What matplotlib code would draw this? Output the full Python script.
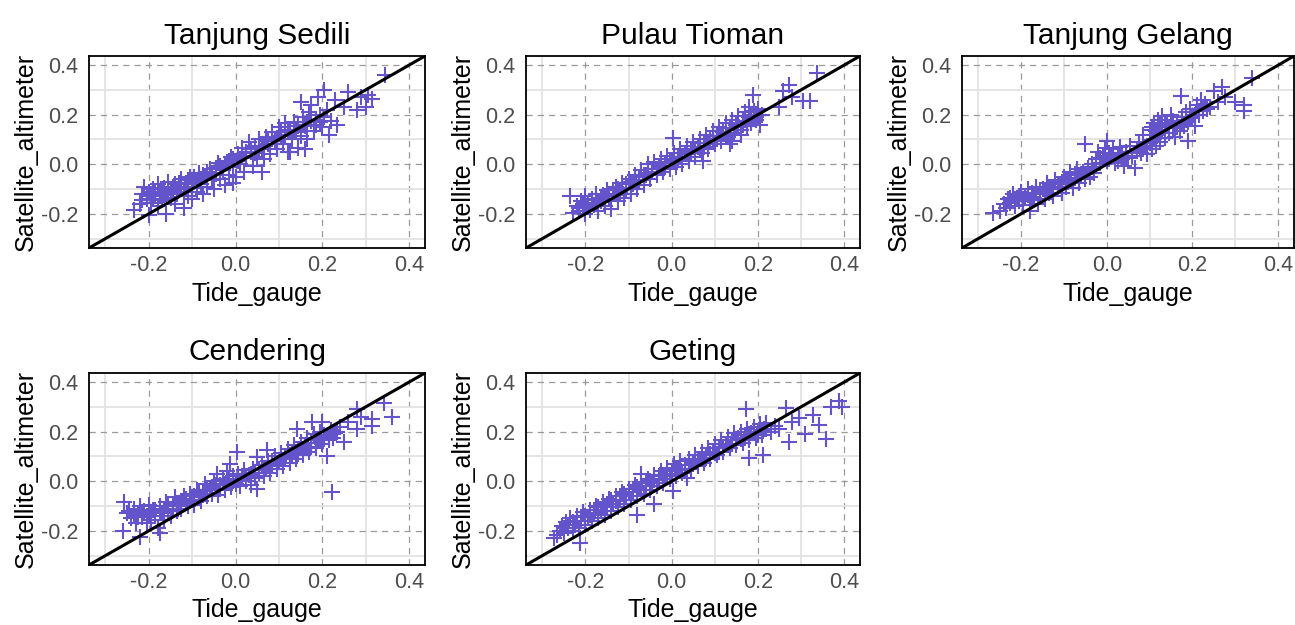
import matplotlib
matplotlib.use("Agg")
import matplotlib.pyplot as plt

plt.rcParams['font.family'] = ['Liberation Sans', 'DejaVu Sans']

stations = ["Tanjung Sedili", "Pulau Tioman", "Tanjung Gelang", "Cendering", "Geting"]
x_label = "Tide_gauge"
y_label = "Satellite_altimeter"
major_ticks = [-0.2, 0.0, 0.2, 0.4]
minor_ticks = [-0.3, -0.1, 0.1, 0.3]
tick_labels = ["-0.2", "0.0", "0.2", "0.4"]

# (tide gauge, satellite altimeter) pairs
sedili = [
    (-0.235, -0.185), (-0.22, -0.16), (-0.215, -0.12), (-0.21, -0.09), (-0.205, -0.14), (-0.2, -0.205),
    (-0.2, -0.11), (-0.195, -0.155), (-0.19, -0.1), (-0.185, -0.13), (-0.18, -0.08), (-0.18, -0.17),
    (-0.175, -0.115), (-0.17, -0.145), (-0.165, -0.095), (-0.16, -0.2), (-0.16, -0.12), (-0.155, -0.07),
    (-0.15, -0.135), (-0.145, -0.105), (-0.14, -0.08), (-0.14, -0.16), (-0.135, -0.12), (-0.13, -0.09),
    (-0.125, -0.06), (-0.12, -0.175), (-0.12, -0.11), (-0.115, -0.075), (-0.11, -0.13), (-0.105, -0.05),
    (-0.1, -0.095), (-0.1, -0.14), (-0.095, -0.065), (-0.09, -0.11), (-0.085, -0.035), (-0.08, -0.08),
    (-0.075, -0.12), (-0.07, -0.05), (-0.065, -0.09), (-0.06, -0.02), (-0.055, -0.065), (-0.05, -0.1),
    (-0.045, -0.04), (-0.04, 0.005), (-0.035, -0.06), (-0.03, -0.025), (-0.025, -0.085), (-0.02, 0.01),
    (-0.015, -0.045), (-0.01, 0.03), (-0.005, -0.01), (0.0, -0.05), (0.005, 0.04), (0.01, 0.0),
    (0.015, 0.065), (0.02, -0.03), (0.025, 0.025), (0.03, 0.09), (0.035, 0.05), (0.04, -0.005),
    (0.045, 0.075), (0.05, 0.03), (0.055, 0.1), (0.06, 0.06), (0.065, 0.02), (0.07, 0.11),
    (0.075, 0.08), (0.08, 0.04), (0.085, 0.13), (0.09, 0.095), (0.095, 0.06), (0.1, 0.15),
    (0.105, 0.115), (0.11, 0.08), (0.115, 0.165), (0.12, 0.13), (0.125, 0.05), (0.13, 0.1),
    (0.135, 0.17), (0.14, 0.14), (0.145, 0.065), (0.15, 0.25), (0.15, 0.115), (0.155, 0.19),
    (0.16, 0.155), (0.165, 0.1), (0.17, 0.21), (0.175, 0.24), (0.18, 0.135), (0.185, 0.18),
    (0.19, 0.27), (0.195, 0.2), (0.2, 0.15), (0.205, 0.3), (0.21, 0.22), (0.215, 0.12),
    (0.22, 0.175), (0.23, 0.26), (0.235, 0.16), (0.25, 0.23), (0.26, 0.29), (0.28, 0.22),
    (0.29, 0.27), (0.3, 0.23), (0.305, 0.28), (0.315, 0.265), (0.345, 0.36), (0.12, 0.05),
    (0.06, -0.03), (-0.005, -0.075), (0.16, 0.06),
    (-0.215, -0.145), (-0.205, -0.125), (-0.195, -0.13), (-0.19, -0.14), (-0.185, -0.11), (-0.175, -0.13),
    (-0.17, -0.11), (-0.165, -0.125), (-0.155, -0.1), (-0.15, -0.115), (-0.145, -0.09), (-0.135, -0.1),
    (-0.13, -0.075), (-0.125, -0.095), (-0.115, -0.09), (-0.11, -0.065), (-0.1, -0.07), (-0.095, -0.05),
    (-0.085, -0.06), (-0.075, -0.045), (-0.065, -0.03), (-0.055, -0.035), (-0.045, -0.015), (-0.035, -0.005),
    (-0.025, 0.0), (-0.015, 0.015), (-0.005, 0.02), (0.005, 0.015), (0.015, 0.035), (0.025, 0.05),
    (0.035, 0.06), (0.045, 0.045), (0.055, 0.065), (0.065, 0.075), (0.075, 0.095), (0.085, 0.1),
    (0.095, 0.105), (0.105, 0.13), (0.115, 0.12), (0.125, 0.14), (0.135, 0.13), (0.145, 0.155),
    (0.155, 0.16), (0.165, 0.17), (0.175, 0.175), (0.185, 0.16), (0.195, 0.17), (0.205, 0.19),
]

tioman = [
    (-0.235, -0.13), (-0.23, -0.195), (-0.22, -0.17), (-0.215, -0.19), (-0.21, -0.15), (-0.205, -0.175),
    (-0.2, -0.13), (-0.2, -0.2), (-0.195, -0.16), (-0.19, -0.185), (-0.185, -0.14), (-0.18, -0.165),
    (-0.175, -0.12), (-0.17, -0.19), (-0.165, -0.15), (-0.16, -0.125), (-0.155, -0.17), (-0.15, -0.105),
    (-0.145, -0.14), (-0.14, -0.18), (-0.135, -0.12), (-0.13, -0.09), (-0.125, -0.15), (-0.12, -0.11),
    (-0.115, -0.075), (-0.11, -0.135), (-0.105, -0.1), (-0.1, -0.06), (-0.095, -0.12), (-0.09, -0.08),
    (-0.085, -0.045), (-0.08, -0.1), (-0.075, -0.065), (-0.07, -0.025), (-0.065, -0.085), (-0.06, -0.045),
    (-0.055, 0.0), (-0.05, -0.06), (-0.045, -0.02), (-0.04, 0.01), (-0.035, -0.045), (-0.03, -0.01),
    (-0.025, 0.02), (-0.02, -0.03), (-0.015, 0.005), (-0.01, 0.035), (-0.005, -0.02), (0.0, 0.015),
    (0.004, 0.105), (0.005, 0.045), (0.01, -0.01), (0.015, 0.03), (0.02, 0.06), (0.025, 0.0),
    (0.03, 0.04), (0.035, 0.075), (0.04, 0.015), (0.045, 0.055), (0.05, 0.09), (0.055, 0.03),
    (0.06, 0.07), (0.065, 0.1), (0.07, 0.045), (0.073, 0.013), (0.075, 0.085), (0.08, 0.12),
    (0.085, 0.06), (0.09, 0.1), (0.095, 0.135), (0.1, 0.08), (0.105, 0.115), (0.11, 0.15),
    (0.115, 0.095), (0.12, 0.13), (0.125, 0.165), (0.13, 0.11), (0.135, 0.08), (0.135, 0.145),
    (0.14, 0.18), (0.145, 0.125), (0.15, 0.16), (0.155, 0.195), (0.16, 0.14), (0.165, 0.175),
    (0.17, 0.21), (0.175, 0.155), (0.18, 0.23), (0.18, 0.19), (0.185, 0.165), (0.188, 0.28),
    (0.19, 0.215), (0.195, 0.18), (0.2, 0.225), (0.204, 0.16), (0.21, 0.2), (0.25, 0.23),
    (0.258, 0.295), (0.273, 0.32), (0.28, 0.27), (0.304, 0.255), (0.32, 0.255), (0.338, 0.37),
    (0.14, 0.095), (0.16, 0.12),
    (-0.215, -0.175), (-0.205, -0.16), (-0.195, -0.17), (-0.185, -0.155), (-0.175, -0.145), (-0.165, -0.135),
    (-0.155, -0.13), (-0.145, -0.12), (-0.135, -0.105), (-0.125, -0.1), (-0.115, -0.095), (-0.105, -0.08),
    (-0.095, -0.07), (-0.085, -0.065), (-0.075, -0.05), (-0.065, -0.045), (-0.055, -0.035), (-0.045, -0.03),
    (-0.035, -0.02), (-0.025, -0.005), (-0.015, -0.01), (-0.005, 0.01), (0.005, 0.01), (0.015, 0.02),
    (0.025, 0.03), (0.035, 0.04), (0.045, 0.045), (0.055, 0.06), (0.065, 0.065), (0.075, 0.07),
    (0.085, 0.085), (0.095, 0.095), (0.105, 0.1), (0.115, 0.115), (0.125, 0.12), (0.135, 0.125),
    (0.145, 0.14), (0.155, 0.15), (0.165, 0.16), (0.175, 0.17), (0.185, 0.18), (0.195, 0.19), (0.2, 0.2),
]

gelang = [
    (-0.265, -0.195), (-0.25, -0.19), (-0.24, -0.16), (-0.235, -0.175), (-0.23, -0.14), (-0.225, -0.155),
    (-0.22, -0.12), (-0.215, -0.17), (-0.21, -0.135), (-0.205, -0.15), (-0.2, -0.11), (-0.195, -0.165),
    (-0.19, -0.13), (-0.185, -0.1), (-0.18, -0.19), (-0.18, -0.145), (-0.175, -0.115), (-0.17, -0.135),
    (-0.165, -0.09), (-0.16, -0.16), (-0.155, -0.12), (-0.15, -0.1), (-0.145, -0.14), (-0.14, -0.075),
    (-0.135, -0.115), (-0.13, -0.095), (-0.125, -0.13), (-0.12, -0.065), (-0.115, -0.1), (-0.11, -0.08),
    (-0.105, -0.115), (-0.1, -0.05), (-0.095, -0.09), (-0.09, -0.07), (-0.085, -0.03), (-0.08, -0.095),
    (-0.075, -0.055), (-0.07, -0.02), (-0.065, -0.075), (-0.06, -0.04), (-0.05, 0.08), (-0.05, -0.06),
    (-0.045, -0.015), (-0.04, -0.05), (-0.035, 0.0), (-0.03, -0.035), (-0.025, 0.02), (-0.02, 0.05),
    (-0.015, 0.005), (-0.01, 0.035), (-0.005, 0.065), (0.0, 0.093), (0.0, 0.015), (0.005, 0.045),
    (0.01, 0.03), (0.015, 0.06), (0.02, 0.005), (0.025, 0.04), (0.03, 0.07), (0.035, 0.02),
    (0.04, -0.005), (0.045, 0.05), (0.05, 0.025), (0.055, 0.075), (0.06, 0.035), (0.065, -0.014),
    (0.07, 0.055), (0.075, 0.09), (0.08, 0.045), (0.085, 0.12), (0.09, 0.07), (0.095, 0.04),
    (0.1, 0.14), (0.1, 0.085), (0.105, 0.06), (0.11, 0.165), (0.11, 0.1), (0.115, 0.075),
    (0.12, 0.18), (0.12, 0.12), (0.125, 0.09), (0.13, 0.195), (0.13, 0.14), (0.135, 0.105),
    (0.14, 0.16), (0.145, 0.125), (0.15, 0.2), (0.155, 0.145), (0.16, 0.11), (0.165, 0.17),
    (0.17, 0.135), (0.173, 0.275), (0.175, 0.19), (0.18, 0.155), (0.185, 0.21), (0.19, 0.093),
    (0.19, 0.17), (0.195, 0.225), (0.2, 0.185), (0.205, 0.155), (0.21, 0.24), (0.215, 0.2),
    (0.22, 0.26), (0.225, 0.215), (0.23, 0.245), (0.24, 0.23), (0.25, 0.295), (0.26, 0.25),
    (0.27, 0.31), (0.275, 0.27), (0.3, 0.25), (0.32, 0.24), (0.32, 0.215), (0.34, 0.35),
    (-0.225, -0.135), (-0.215, -0.14), (-0.205, -0.13), (-0.195, -0.145), (-0.185, -0.125), (-0.175, -0.135),
    (-0.165, -0.115), (-0.155, -0.105), (-0.145, -0.11), (-0.135, -0.09), (-0.125, -0.1), (-0.115, -0.08),
    (-0.105, -0.07), (-0.095, -0.06), (-0.085, -0.065), (-0.075, -0.04), (-0.065, -0.045), (-0.055, -0.03),
    (-0.045, -0.025), (-0.035, -0.01), (-0.025, 0.0), (-0.015, 0.025), (-0.005, 0.03), (0.005, 0.02),
    (0.015, 0.035), (0.025, 0.015), (0.035, 0.045), (0.045, 0.03), (0.085, 0.06), (0.095, 0.075),
    (0.105, 0.09), (0.115, 0.135), (0.125, 0.16), (0.135, 0.165), (0.105, 0.15), (0.145, 0.15),
    (0.155, 0.175), (0.165, 0.15), (0.175, 0.165), (0.185, 0.18), (0.195, 0.19), (0.205, 0.2),
    (0.215, 0.215), (0.225, 0.23), (0.235, 0.225),
]

cendering = [
    (-0.26, -0.2), (-0.258, -0.085), (-0.25, -0.13), (-0.24, -0.15), (-0.235, -0.11), (-0.23, -0.17),
    (-0.225, -0.13), (-0.22, -0.225), (-0.22, -0.1), (-0.215, -0.145), (-0.21, -0.12), (-0.205, -0.17),
    (-0.2, -0.135), (-0.2, -0.095), (-0.195, -0.155), (-0.19, -0.115), (-0.185, -0.14), (-0.18, -0.19),
    (-0.175, -0.21), (-0.175, -0.1), (-0.17, -0.13), (-0.165, -0.155), (-0.16, -0.085), (-0.155, -0.12),
    (-0.15, -0.14), (-0.145, -0.1), (-0.14, -0.065), (-0.135, -0.12), (-0.13, -0.09), (-0.125, -0.11),
    (-0.12, -0.06), (-0.115, -0.085), (-0.11, -0.1), (-0.105, -0.05), (-0.1, -0.075), (-0.095, -0.095),
    (-0.09, -0.035), (-0.085, -0.065), (-0.08, -0.08), (-0.075, -0.04), (-0.07, -0.01), (-0.065, -0.06),
    (-0.06, -0.03), (-0.055, -0.05), (-0.05, 0.0), (-0.045, -0.03), (-0.042, 0.03), (-0.04, -0.055),
    (-0.035, -0.015), (-0.03, 0.01), (-0.025, -0.035), (-0.02, 0.04), (-0.015, -0.005), (-0.012, 0.07),
    (-0.01, -0.025), (-0.005, 0.02), (0.0, -0.01), (0.004, 0.12), (0.005, 0.03), (0.01, -0.02),
    (0.015, 0.01), (0.02, 0.045), (0.025, 0.0), (0.03, 0.025), (0.035, -0.015), (0.04, 0.05),
    (0.045, 0.015), (0.05, 0.098), (0.05, -0.03), (0.055, 0.035), (0.06, 0.065), (0.065, 0.02),
    (0.07, 0.05), (0.073, 0.125), (0.075, 0.08), (0.08, 0.035), (0.085, 0.065), (0.09, 0.1),
    (0.095, 0.05), (0.1, 0.08), (0.105, 0.115), (0.11, 0.06), (0.115, 0.095), (0.12, 0.13),
    (0.125, 0.075), (0.13, 0.11), (0.135, 0.145), (0.14, 0.09), (0.142, 0.21), (0.145, 0.125),
    (0.15, 0.16), (0.155, 0.105), (0.16, 0.14), (0.165, 0.175), (0.17, 0.12), (0.175, 0.155),
    (0.177, 0.24), (0.18, 0.19), (0.185, 0.135), (0.19, 0.17), (0.195, 0.2), (0.2, 0.24),
    (0.2, 0.15), (0.205, 0.185), (0.21, 0.1), (0.215, 0.165), (0.22, 0.205), (0.223, -0.042),
    (0.225, 0.175), (0.23, 0.195), (0.24, 0.22), (0.25, 0.16), (0.26, 0.24), (0.28, 0.29),
    (0.28, 0.21), (0.29, 0.26), (0.315, 0.25), (0.315, 0.225), (0.342, 0.316), (0.362, 0.26),
    (-0.245, -0.12), (-0.235, -0.135), (-0.225, -0.145), (-0.215, -0.125), (-0.205, -0.14), (-0.195, -0.125),
    (-0.185, -0.115), (-0.175, -0.125), (-0.165, -0.11), (-0.155, -0.1), (-0.145, -0.115), (-0.135, -0.09),
    (-0.125, -0.08), (-0.115, -0.07), (-0.105, -0.075), (-0.095, -0.06), (-0.085, -0.045), (-0.075, -0.055),
    (-0.065, -0.035), (-0.055, -0.025), (-0.045, -0.015), (-0.035, -0.03), (-0.025, -0.01), (-0.015, 0.01),
    (-0.005, 0.0), (0.005, 0.005), (0.015, 0.02), (0.025, 0.02), (0.035, 0.03), (0.045, 0.035),
    (0.055, 0.05), (0.065, 0.045), (0.075, 0.06), (0.085, 0.08), (0.095, 0.075), (0.105, 0.09),
    (0.115, 0.1), (0.125, 0.105), (0.135, 0.12), (0.145, 0.11), (0.155, 0.13), (0.165, 0.14),
    (0.175, 0.14), (0.185, 0.155), (0.195, 0.165), (0.205, 0.17), (0.215, 0.18), (0.225, 0.19),
    (0.235, 0.2),
]

geting = [
    (-0.273, -0.228), (-0.265, -0.215), (-0.26, -0.2), (-0.255, -0.18), (-0.25, -0.21), (-0.245, -0.165),
    (-0.24, -0.19), (-0.235, -0.15), (-0.23, -0.2), (-0.225, -0.175), (-0.22, -0.14), (-0.215, -0.19),
    (-0.212, -0.25), (-0.21, -0.16), (-0.205, -0.125), (-0.2, -0.175), (-0.195, -0.145), (-0.19, -0.115),
    (-0.185, -0.16), (-0.18, -0.13), (-0.175, -0.1), (-0.17, -0.15), (-0.165, -0.12), (-0.16, -0.085),
    (-0.155, -0.135), (-0.15, -0.105), (-0.145, -0.07), (-0.14, -0.12), (-0.135, -0.09), (-0.13, -0.06),
    (-0.125, -0.105), (-0.12, -0.075), (-0.115, -0.045), (-0.11, -0.09), (-0.105, -0.06), (-0.1, -0.03),
    (-0.095, -0.075), (-0.09, -0.045), (-0.085, -0.015), (-0.08, -0.135), (-0.08, -0.06), (-0.075, -0.03),
    (-0.07, 0.03), (-0.07, -0.005), (-0.065, -0.05), (-0.06, -0.02), (-0.055, 0.01), (-0.05, -0.035),
    (-0.045, -0.005), (-0.042, -0.09), (-0.04, 0.025), (-0.035, -0.02), (-0.03, 0.01), (-0.025, 0.04),
    (-0.02, -0.005), (-0.015, 0.025), (-0.01, 0.055), (-0.005, 0.01), (0.0, 0.04), (0.004, -0.04),
    (0.005, 0.07), (0.01, 0.02), (0.015, 0.05), (0.02, 0.08), (0.025, 0.035), (0.03, 0.065),
    (0.035, 0.015), (0.04, 0.09), (0.045, 0.05), (0.05, 0.075), (0.055, 0.105), (0.06, 0.06),
    (0.065, 0.09), (0.07, 0.12), (0.075, 0.075), (0.08, 0.105), (0.085, 0.135), (0.09, 0.09),
    (0.095, 0.12), (0.1, 0.15), (0.105, 0.105), (0.11, 0.135), (0.115, 0.165), (0.12, 0.12),
    (0.125, 0.15), (0.13, 0.18), (0.135, 0.135), (0.14, 0.165), (0.145, 0.195), (0.15, 0.145),
    (0.155, 0.175), (0.16, 0.2), (0.165, 0.155), (0.17, 0.185), (0.173, 0.29), (0.175, 0.21),
    (0.18, 0.094), (0.18, 0.165), (0.185, 0.195), (0.19, 0.22), (0.195, 0.175), (0.2, 0.2),
    (0.205, 0.23), (0.21, 0.185), (0.212, 0.107), (0.215, 0.21), (0.22, 0.235), (0.23, 0.2),
    (0.24, 0.225), (0.25, 0.21), (0.265, 0.295), (0.273, 0.157), (0.28, 0.24), (0.296, 0.254),
    (0.31, 0.19), (0.327, 0.267), (0.342, 0.226), (0.358, 0.17), (0.37, 0.3), (0.388, 0.324),
    (0.396, 0.30),
    (-0.25, -0.19), (-0.24, -0.175), (-0.23, -0.165), (-0.22, -0.16), (-0.21, -0.145), (-0.2, -0.14),
    (-0.19, -0.135), (-0.18, -0.115), (-0.17, -0.105), (-0.16, -0.1), (-0.15, -0.09), (-0.14, -0.075),
    (-0.13, -0.08), (-0.12, -0.06), (-0.11, -0.05), (-0.1, -0.045), (-0.09, -0.03), (-0.08, -0.025),
    (-0.07, -0.02), (-0.06, -0.005), (-0.05, 0.0), (-0.04, 0.005), (-0.03, 0.02), (-0.02, 0.025),
    (-0.01, 0.03), (0.0, 0.02), (0.01, 0.045), (0.02, 0.05), (0.03, 0.045), (0.04, 0.065),
    (0.05, 0.07), (0.06, 0.08), (0.07, 0.09), (0.08, 0.095), (0.09, 0.11), (0.1, 0.115),
    (0.11, 0.12), (0.12, 0.14), (0.13, 0.145), (0.14, 0.15), (0.15, 0.165), (0.16, 0.17),
    (0.17, 0.175), (0.18, 0.18), (0.19, 0.195), (0.2, 0.185), (0.21, 0.205), (0.22, 0.21),
]

station_data = [sedili, tioman, gelang, cendering, geting]

W, H = 1295, 625
fig = plt.figure(figsize=(W / 100, H / 100), dpi=100)
# panel boxes in pixels: left, top, right, bottom
boxes = [(89, 56, 425, 248), (526, 56, 860, 248), (962, 56, 1294, 248),
         (89, 373, 425, 565), (526, 373, 860, 565)]
lim = (-0.338, 0.437)

for name, pts, (l, t, r, b) in zip(stations, station_data, boxes):
    ax = fig.add_axes([l / W, 1 - b / H, (r - l) / W, (b - t) / H])
    ax.set_xlim(lim)
    ax.set_ylim(lim)
    ax.set_xticks(major_ticks)
    ax.set_xticklabels(tick_labels)
    ax.set_yticks(major_ticks)
    ax.set_yticklabels(tick_labels)
    ax.set_xticks(minor_ticks, minor=True)
    ax.set_yticks(minor_ticks, minor=True)
    ax.grid(which='minor', color='#E3E3E3', lw=1.3, ls='-')
    ax.grid(which='major', color='#9A9A9A', lw=0.9, ls=(0, (5, 4)))
    ax.set_axisbelow(True)
    xs = [p[0] for p in pts]
    ys = [p[1] for p in pts]
    ax.plot(xs, ys, '+', color='#6454CC', ms=11.5, mew=1.5, zorder=3)
    ax.axline((0, 0), slope=1, color='black', lw=2.2, zorder=4)
    ax.tick_params(which='both', length=0, labelsize=15.5, labelcolor='#4D4D4D')
    ax.tick_params(axis='y', pad=8)
    ax.tick_params(axis='x', pad=5)
    for sp in ax.spines.values():
        sp.set_color('black')
        sp.set_linewidth(1.3)
        sp.set_zorder(5)
    ax.set_title(name, fontsize=21.5, pad=9)
    ax.set_xlabel(x_label, fontsize=18, labelpad=4)
    ax.set_ylabel(y_label, fontsize=18, labelpad=2)

fig.savefig("out.png", dpi=100, facecolor='white')
